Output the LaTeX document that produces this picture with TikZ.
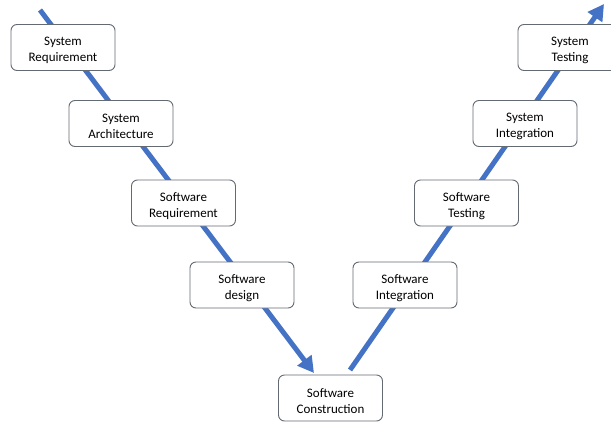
\documentclass[tikz,border=0pt]{standalone}
\usepackage{fontspec}
\setmainfont{Carlito}
\usetikzlibrary{arrows.meta}
\definecolor{vblue}{RGB}{68,114,196}
\definecolor{boxgray}{RGB}{100,106,114}
\newcommand{\stagetext}[2]{\rule{0pt}{14.5pt}#1\\#2}
\begin{document}
\begin{tikzpicture}[x=1pt,y=-1pt,
  stage/.style={draw=boxgray,line width=0.9pt,fill=white,rounded corners=6pt,
    minimum width=104pt,minimum height=46pt,align=center,
    font=\fontsize{13}{16}\selectfont,inner sep=0pt},
  vline/.style={draw=vblue,line width=5pt,-{Triangle[length=16pt,width=17pt]}}]
\useasboundingbox (0,0) rectangle (611,421);
\clip (0,0) rectangle (611,421);
\coordinate (Ls) at (40,10);
\coordinate (Le) at (314,373);
\coordinate (Rs) at (350,370);
\coordinate (Re) at (604,4);
\path[vline] (Ls) -- (Le);
\path[vline] (Rs) -- (Re);
\node[stage] (sr) at (63,47.5) {\stagetext{System}{Requirement}};
\node[stage] (sa) at (121,123.5) {\stagetext{System}{Architecture}};
\node[stage] (swr) at (183.5,203) {\stagetext{Software}{Requirement}};
\node[stage] (swd) at (242,285) {\stagetext{Software}{design}};
\node[stage] (swc) at (330.5,398) {\stagetext{Software}{Construction}};
\node[stage] (swi) at (405,285) {\stagetext{Software}{Integration}};
\node[stage] (swt) at (466.5,203) {\stagetext{Software}{Testing}};
\node[stage] (si) at (525,123.5) {\stagetext{System}{Integration}};
\node[stage] (st) at (570,47.5) {\stagetext{System}{Testing}};
\end{tikzpicture}
\end{document}
